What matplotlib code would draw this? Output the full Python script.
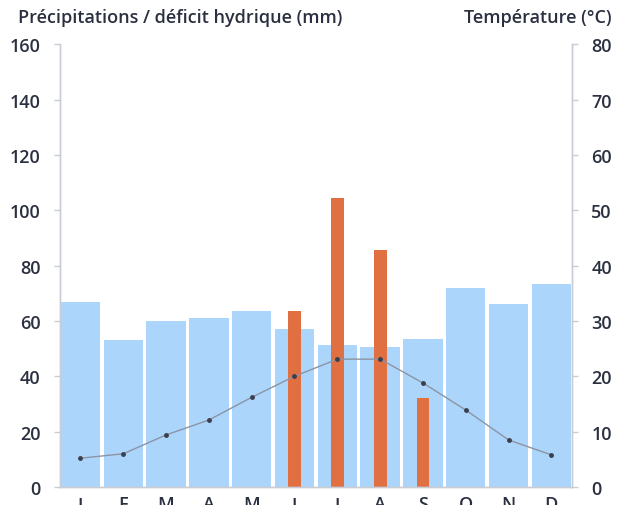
import numpy as np
import matplotlib.pyplot as plt

plt.rcParams['font.family'] = ['Open Sans', 'DejaVu Sans']

# data
months = ['J', 'F', 'M', 'A', 'M', 'J', 'J', 'A', 'S', 'O', 'N', 'D']
precip = [67, 53, 60, 61, 63.5, 57, 51.3, 50.5, 53.4, 71.8, 66, 73.3]
deficit = [0, 0, 0, 0, 0, 63.5, 104.5, 85.5, 32, 0, 0, 0]
temp = [5.2, 6.0, 9.4, 12.1, 16.2, 20.0, 23.1, 23.1, 18.8, 13.9, 8.5, 5.8]

text_col = '#2b3040'
spine_col = '#c8ccd4'

fig = plt.figure(figsize=(6.17, 5.06), dpi=100)
ax = fig.add_axes([0.097, 0.0356, 0.83, 0.875])
x = np.arange(len(months))

ax.bar(x, precip, width=0.92, color='#acd5fb', zorder=1)
dx = [i for i, v in enumerate(deficit) if v > 0]
ax.bar(dx, [deficit[i] for i in dx], width=0.3, color='#e06f42', zorder=2)

ax.set_xlim(-0.48, 11.48)
ax.set_ylim(0, 160)
ax.set_yticks(range(0, 161, 20))
ax.set_xticks(x)
ax.set_xticklabels(months)

ax2 = ax.twinx()
ax2.plot(x, temp, color='#8c94a4', lw=1, marker='o', ms=2.5,
         mfc='#3a4050', mec='#3a4050', zorder=3)
ax2.set_ylim(0, 80)
ax2.set_yticks(range(0, 81, 10))

for a in (ax, ax2):
    a.spines['top'].set_visible(False)
    for s in ('left', 'right', 'bottom'):
        a.spines[s].set_color(spine_col)
        a.spines[s].set_linewidth(1)
    a.tick_params(colors=text_col, labelsize=13, length=4, width=1)
    a.tick_params(axis='y', color=spine_col, pad=10)
    a.tick_params(axis='x', length=0, pad=6)
    for lab in a.get_yticklabels() + a.get_xticklabels():
        lab.set_fontweight('semibold')
        lab.set_color(text_col)
ax2.set_zorder(ax.get_zorder() + 1)

fig.text(0.029, 0.964, 'Précipitations / déficit hydrique (mm)', ha='left', va='center',
         fontsize=13, fontweight='semibold', color=text_col)
fig.text(0.992, 0.964, 'Température (°C)', ha='right', va='center',
         fontsize=13, fontweight='semibold', color=text_col)

fig.savefig('out.png', dpi=100)
